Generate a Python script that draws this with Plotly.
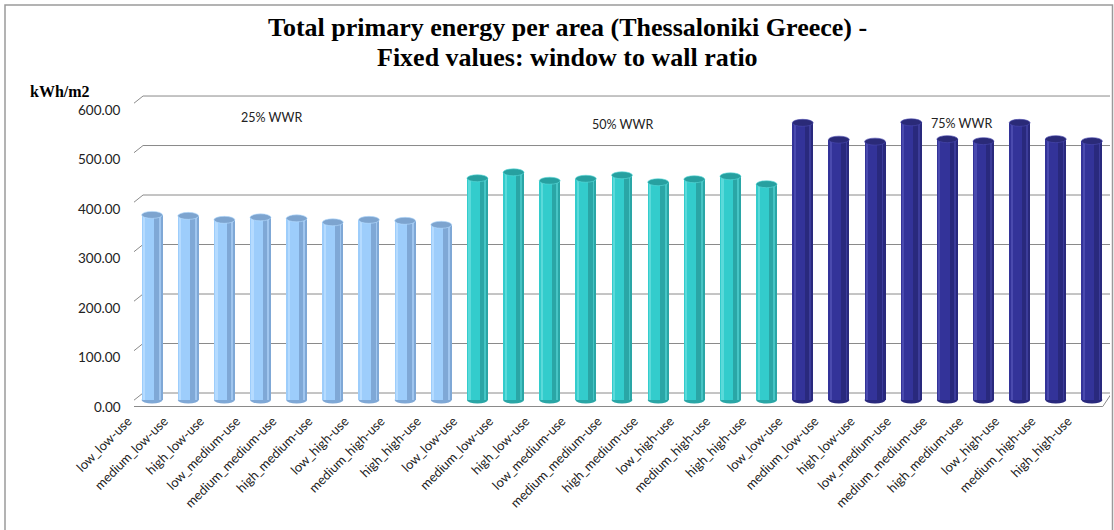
import plotly.graph_objects as go

# Case labels (envelope level _ internal-gains level) repeated for each window-to-wall ratio
cases = ["low_low-use", "medium_low-use", "high_low-use",
         "low_medium-use", "medium_medium-use", "high_medium-use",
         "low_high-use", "medium_high-use", "high_high-use"]

wwr_groups = ["25% WWR", "50% WWR", "75% WWR"]

# Total primary energy per area, kWh/m2
energy_25 = [374, 372, 364, 369, 367, 359, 364, 362, 354]
energy_50 = [448, 460, 443, 447, 454, 440, 446, 452, 436]
energy_75 = [560, 526, 522, 561, 527, 523, 560, 527, 523]

y_ticks = [0, 100, 200, 300, 400, 500, 600]

title_lines = ["Total primary energy per area (Thessaloniki Greece) -",
               "Fixed values: window to wall ratio"]

# body colour, shaded side, highlight, cap
palette = [
    ("#9DCDFB", "#7FA8D6", "#B5DBFF", "#7DA4CF"),
    ("#33CCCC", "#2AA6A6", "#5ADADA", "#27A0A0"),
    ("#333399", "#29297D", "#4A4AAE", "#2A2A78"),
]

series = [energy_25, energy_50, energy_75]

W, H = 1114, 530
ML, MR, MT, MB = 134, 4, 90, 120
Y_LO, Y_HI = -20.2, 626.3
pw, ph = W - ML - MR, H - MT - MB


def px_x(p):
    """horizontal pixel -> paper coordinate"""
    return (p - ML) / pw


def px_y(p):
    """vertical pixel (from top) -> paper coordinate"""
    return (H - MB - p) / ph


fig = go.Figure()
shapes = []

half = 0.29
for g, vals in enumerate(series):
    body, shade, light, cap = palette[g]
    xs = [g * len(cases) + i for i in range(len(vals))]
    # cylinder body
    fig.add_trace(go.Bar(x=xs, y=vals, width=half * 2, offset=-half,
                         marker=dict(color=body, line=dict(width=0)),
                         name=wwr_groups[g], showlegend=False))
    # shaded right side of the cylinder
    fig.add_trace(go.Bar(x=xs, y=vals, width=0.23, offset=0.06,
                         marker=dict(color=shade, line=dict(width=0)),
                         showlegend=False, hoverinfo="skip"))
    # soft highlight on the left
    fig.add_trace(go.Bar(x=xs, y=vals, width=0.06, offset=-0.25,
                         marker=dict(color=light, line=dict(width=0)),
                         showlegend=False, hoverinfo="skip"))
    # thin facet line near the right edge
    fig.add_trace(go.Bar(x=xs, y=vals, width=0.02, offset=0.2,
                         marker=dict(color=light, opacity=0.6, line=dict(width=0)),
                         showlegend=False, hoverinfo="skip"))
    for x, v in zip(xs, vals):
        # rounded bottom
        shapes.append(dict(type="circle", xref="x", yref="y", ysizemode="pixel",
                           yanchor=0, y0=-3.5, y1=3.5, x0=x - half, x1=x + half,
                           fillcolor=shade, line=dict(width=0), layer="below"))
        # elliptical cap
        shapes.append(dict(type="circle", xref="x", yref="y", ysizemode="pixel",
                           yanchor=v, y0=-3.5, y1=3.5, x0=x - half, x1=x + half,
                           fillcolor=cap, line=dict(color=light, width=0.6),
                           layer="above"))

n = len(cases) * len(series)
grid_col = "#8A8A8A"
annotations = []
for t in y_ticks:
    # back-wall gridline
    shapes.insert(0, dict(type="line", xref="x", yref="y", ysizemode="pixel",
                          yanchor=t, x0=-0.25, x1=n - 0.5, y0=7, y1=7,
                          line=dict(color=grid_col, width=1), layer="below"))
    # side-wall diagonal
    shapes.insert(0, dict(type="line", xref="x", yref="y", ysizemode="pixel",
                          yanchor=t, x0=-0.72, x1=-0.25, y0=-6.5, y1=7,
                          line=dict(color=grid_col, width=1), layer="below"))
    annotations.append(dict(x=px_x(123), y=t, xref="paper", yref="y", yshift=-6.5,
                            text=f"{t:.2f}", showarrow=False, xanchor="right",
                            font=dict(family="Lato", size=13.5, color="#222")))

# floor front edge
shapes.append(dict(type="line", xref="x", yref="y", ysizemode="pixel", yanchor=0,
                   x0=-0.72, x1=n - 0.7, y0=-6.5, y1=-6.5,
                   line=dict(color=grid_col, width=1)))
shapes.append(dict(type="line", xref="x", yref="y", ysizemode="pixel", yanchor=0,
                   x0=n - 0.7, x1=n - 0.45, y0=-6.5, y1=7,
                   line=dict(color=grid_col, width=1)))

# chart-area frame
shapes.append(dict(type="rect", xref="paper", yref="paper",
                   x0=px_x(5), x1=px_x(1112.5), y0=px_y(H + 40), y1=px_y(5),
                   line=dict(color="#9A9A9A", width=1.5), fillcolor="rgba(0,0,0,0)",
                   layer="below"))

# chart title, one annotation per line
for line, ty in zip(title_lines, [28, 57]):
    annotations.append(dict(x=px_x(567), y=px_y(ty), xref="paper", yref="paper",
                            text=f"<b>{line}</b>", showarrow=False,
                            xanchor="center", yanchor="middle",
                            font=dict(family="Liberation Serif", size=26, color="#000")))

# group labels
group_pos = [(3.29, 570), (13.0, 556), (22.38, 558)]
for label, (gx, gy) in zip(wwr_groups, group_pos):
    annotations.append(dict(x=gx, y=gy, xref="x", yref="y", text=label,
                            showarrow=False, font=dict(family="Lato", size=12.5, color="#222")))

# y-axis unit
annotations.append(dict(x=px_x(28), y=px_y(91), xref="paper", yref="paper",
                        text="<b>kWh/m2</b>", showarrow=False, xanchor="left",
                        yanchor="middle",
                        font=dict(family="Liberation Serif", size=16, color="#000")))

tick_text = cases * len(series)

fig.update_layout(
    width=W, height=H,
    margin=dict(l=ML, r=MR, t=MT, b=MB),
    paper_bgcolor="white", plot_bgcolor="white",
    barmode="overlay", bargap=0,
    xaxis=dict(range=[-0.5, n - 0.5], tickmode="array",
               tickvals=list(range(n)), ticktext=tick_text, tickangle=-45,
               ticklabelshift=-24, ticklabelstandoff=0,
               showgrid=False, zeroline=False, showline=False, ticks="",
               tickfont=dict(family="Lato", size=13, color="#222")),
    yaxis=dict(range=[Y_LO, Y_HI], showgrid=False, zeroline=False,
               showline=False, showticklabels=False, ticks=""),
    shapes=shapes,
    annotations=annotations,
    showlegend=False,
)

fig.write_html("out.html")
